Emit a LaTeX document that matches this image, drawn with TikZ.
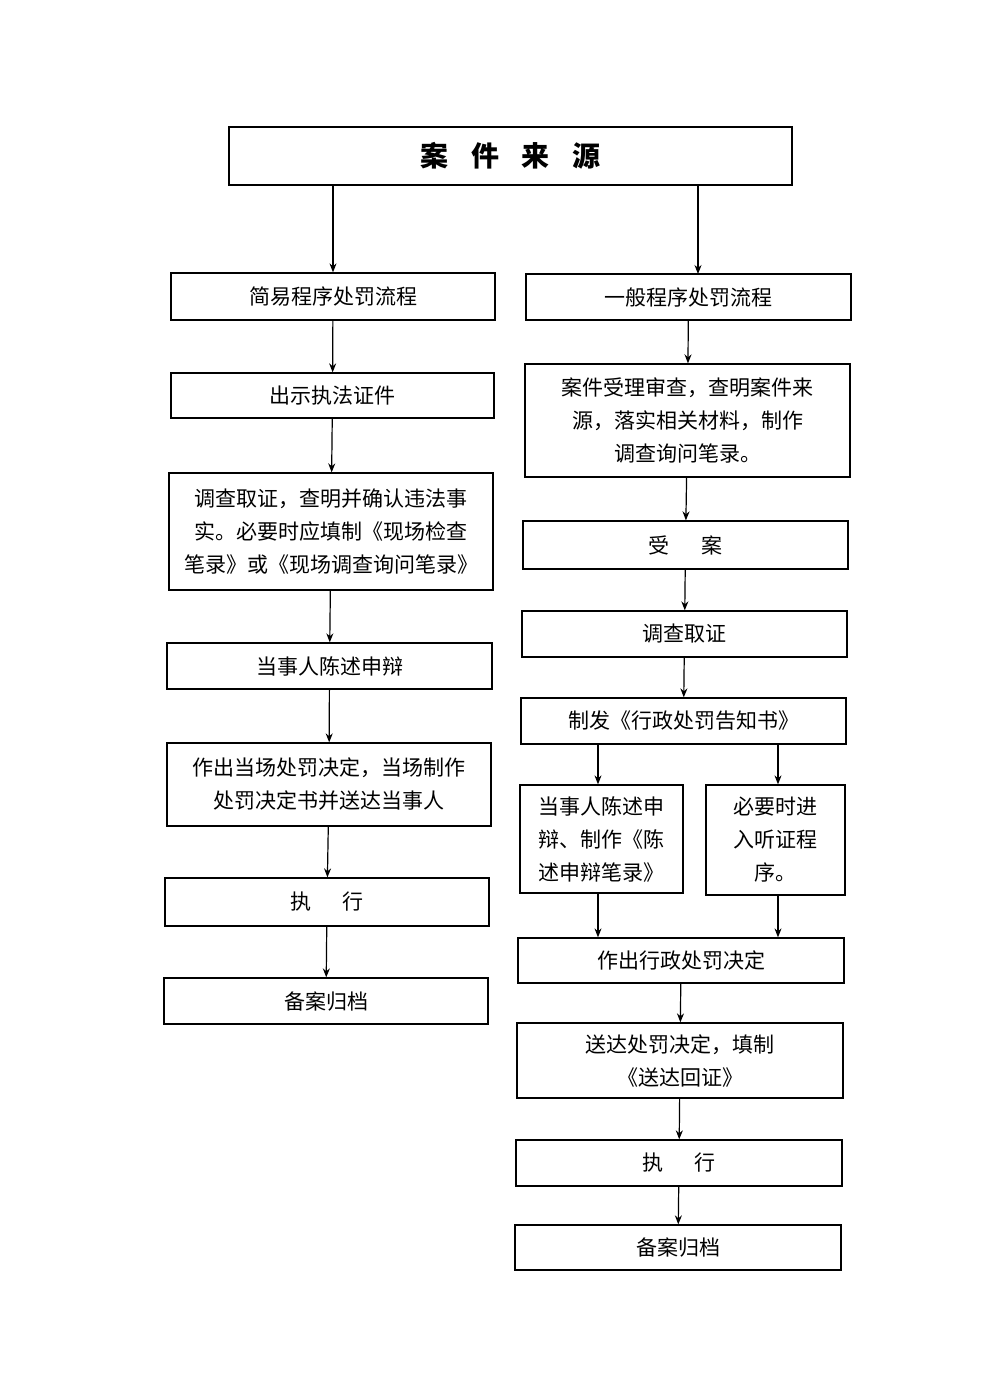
\documentclass[tikz,border=0pt]{standalone}
\usepackage{fontspec}
\setmainfont{Noto Sans CJK SC}
\usetikzlibrary{arrows.meta}
\begin{document}
\begin{tikzpicture}
[
x=1pt, y=-1pt,
box/.style={draw=black, line width=1.3pt, inner sep=0pt, align=center, font=\fontsize{21}{33}\selectfont},
arr/.style={-{Stealth[length=9pt,width=7pt]}, line width=1.2pt}
]
\useasboundingbox[fill=white] (0,0) rectangle (1000,1387);
%Nodes
\node[box, minimum width=563pt, minimum height=58pt, font=\fontsize{28}{30}\selectfont\bfseries] (title) at (510.5,156) {案\hspace{0.8em}件\hspace{0.8em}来\hspace{0.8em}源};
% left column
\node[box, minimum width=324pt, minimum height=47pt] (l1) at (333,296.5) {简易程序处罚流程};
\node[box, minimum width=323pt, minimum height=45pt] (l2) at (332.5,395.5) {出示执法证件};
\node[box, minimum width=324pt, minimum height=117pt] (l3) at (331,531.5) {调查取证，查明并确认违法事\\实。必要时应填制《现场检查\\笔录》或《现场调查询问笔录》};
\node[box, minimum width=325pt, minimum height=46pt] (l4) at (329.5,666) {当事人陈述申辩};
\node[box, minimum width=324pt, minimum height=83pt] (l5) at (329,784.5) {作出当场处罚决定，当场制作\\处罚决定书并送达当事人};
\node[box, minimum width=324pt, minimum height=48pt] (l6) at (327,902) {执\hspace{1.5em}行};
\node[box, minimum width=324pt, minimum height=46pt] (l7) at (326,1001) {备案归档};
% right column
\node[box, minimum width=325pt, minimum height=46pt] (r1) at (688.5,297) {一般程序处罚流程};
\node[box, minimum width=325pt, minimum height=113pt] (r2) at (687.5,420.5) {案件受理审查，查明案件来\\源，落实相关材料，制作\\调查询问笔录。};
\node[box, minimum width=325pt, minimum height=48pt] (r3) at (685.5,545) {受\hspace{1.5em}案};
\node[box, minimum width=325pt, minimum height=46pt] (r4) at (684.5,634) {调查取证};
\node[box, minimum width=325pt, minimum height=46pt] (r5) at (683.5,721) {制发《行政处罚告知书》};
\node[box, minimum width=163pt, minimum height=108pt] (r6a) at (601.5,839) {当事人陈述申\\辩、制作《陈\\述申辩笔录》};
\node[box, minimum width=139pt, minimum height=110pt] (r6b) at (775.5,840) {必要时进\\入听证程\\序。};
\node[box, minimum width=326pt, minimum height=45pt] (r7) at (681,960.5) {作出行政处罚决定};
\node[box, minimum width=326pt, minimum height=75pt] (r8) at (680,1060.5) {送达处罚决定，填制\\《送达回证》};
\node[box, minimum width=326pt, minimum height=46pt] (r9) at (679,1163) {执\hspace{1.5em}行};
\node[box, minimum width=326pt, minimum height=45pt] (r10) at (678,1247.5) {备案归档};

%Lines
\draw[arr] (title.south -| l1.north) -- (l1.north);
\draw[arr] (title.south -| 698,0) -- (698,274);
\draw[arr] (l1) -- (l2);
\draw[arr] (l2) -- (l3);
\draw[arr] (l3) -- (l4);
\draw[arr] (l4) -- (l5);
\draw[arr] (l5) -- (l6);
\draw[arr] (l6) -- (l7);
\draw[arr] (r1) -- (r2);
\draw[arr] (r2) -- (r3);
\draw[arr] (r3) -- (r4);
\draw[arr] (r4) -- (r5);
\draw[arr] (r5.south -| 598,0) -- (r6a.north -| 598,0);
\draw[arr] (r5.south -| 778,0) -- (r6b.north -| 778,0);
\draw[arr] (r6a.south -| 598,0) -- (r7.north -| 598,0);
\draw[arr] (r6b.south -| 778,0) -- (r7.north -| 778,0);
\draw[arr] (r7) -- (r8);
\draw[arr] (r8) -- (r9);
\draw[arr] (r9) -- (r10);
\end{tikzpicture}
\end{document}
